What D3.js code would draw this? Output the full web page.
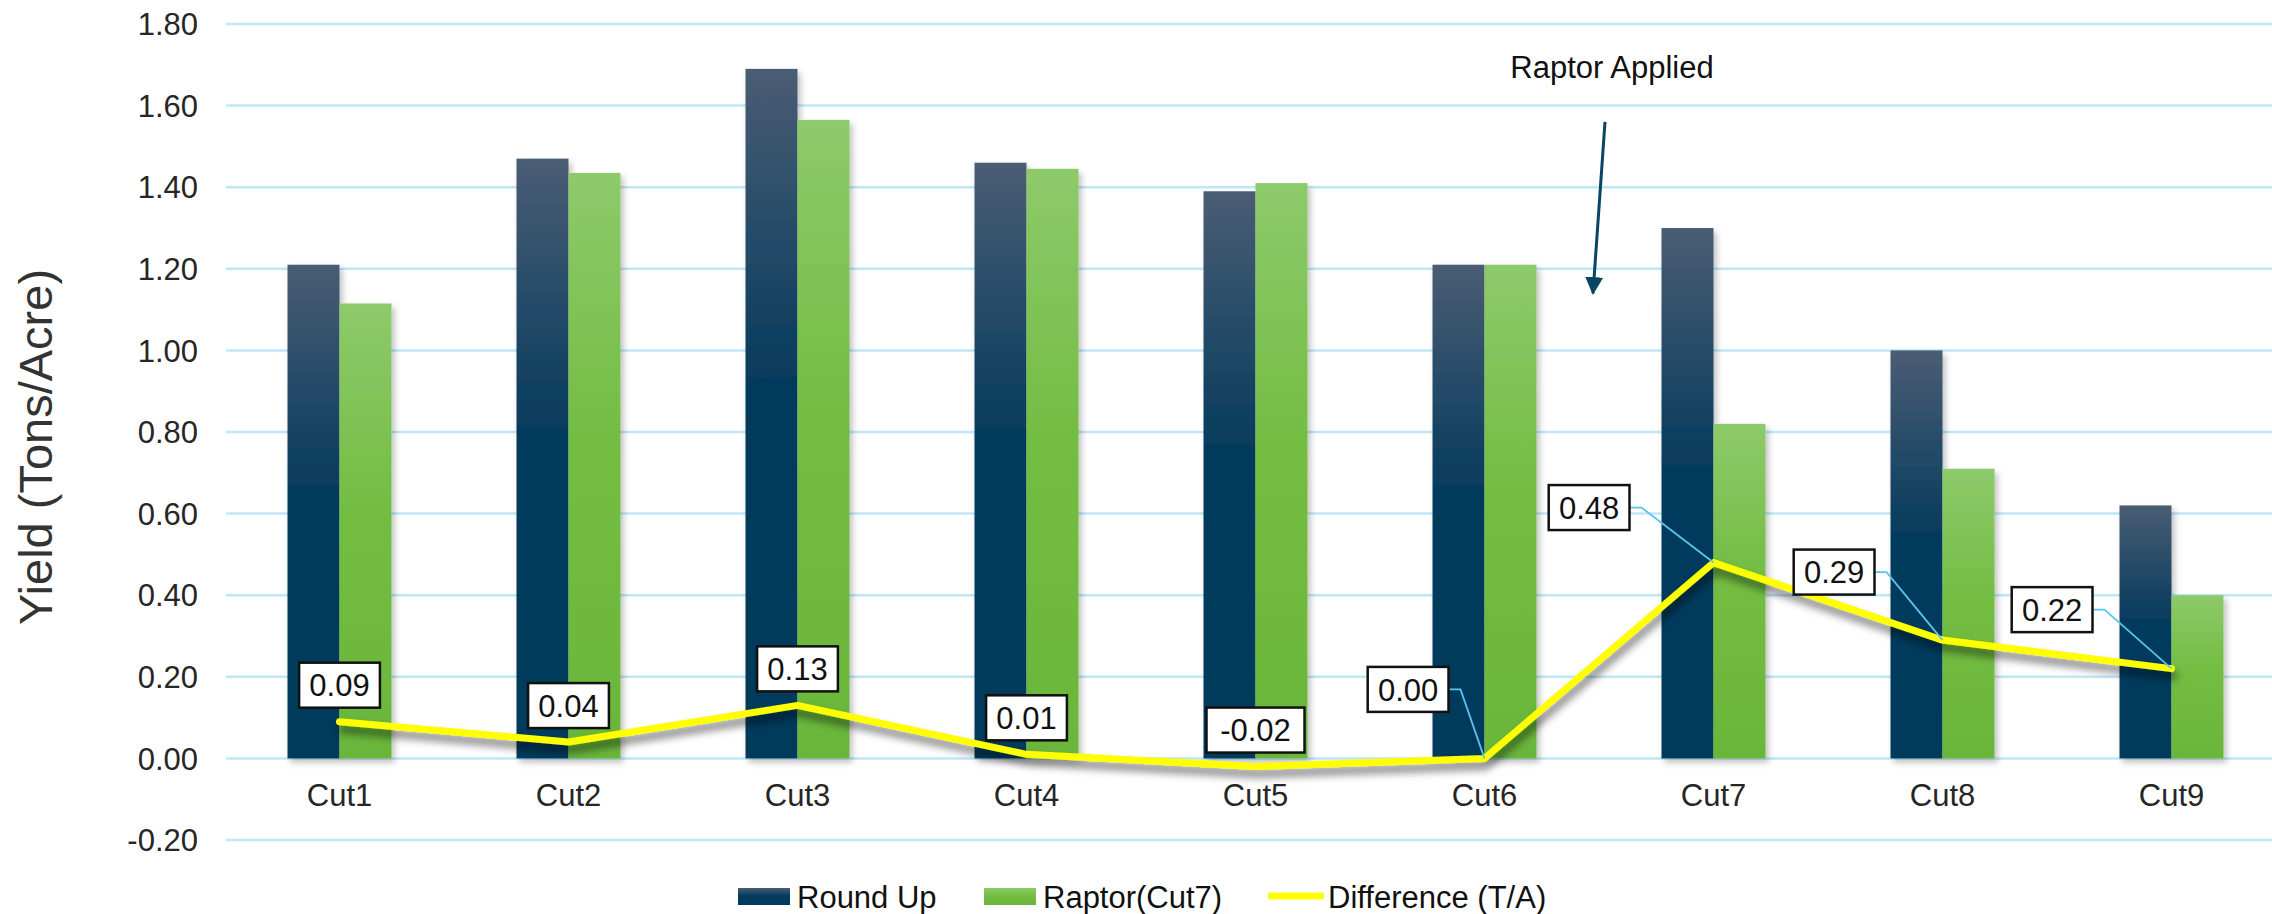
<!DOCTYPE html>
<html lang="en">
<head>
    <meta charset="UTF-8">
    <title>Yield</title>
    <script src="https://cdnjs.cloudflare.com/ajax/libs/d3/7.8.5/d3.min.js"></script>
    <style>
        body { margin: 0; background: #fff; }
        text { font-family: "Liberation Sans", Arial, sans-serif; }
    </style>
</head>
<body>

<svg id="chart" width="2272" height="914"></svg>

<script>

    // DATA
    var cuts = ['Cut1','Cut2','Cut3','Cut4','Cut5','Cut6','Cut7','Cut8','Cut9'];
    var roundUp = [1.21, 1.47, 1.69, 1.46, 1.39, 1.21, 1.30, 1.00, 0.62];
    var raptor = [1.115, 1.435, 1.565, 1.445, 1.41, 1.21, 0.82, 0.71, 0.40];
    var difference = [0.09, 0.04, 0.13, 0.01, -0.02, 0.00, 0.48, 0.29, 0.22];
    var yTicks = [-0.2, 0, 0.2, 0.4, 0.6, 0.8, 1.0, 1.2, 1.4, 1.6, 1.8];
    var seriesNames = ['Round Up', 'Raptor(Cut7)', 'Difference (T/A)'];

    var width = 2272,
        height = 914;

    var svg = d3.select("#chart");

    var x = d3.scaleBand()
        .domain(cuts)
        .range([225, 2286])
        .paddingInner(0.546)
        .paddingOuter(0.273);

    var x1 = d3.scaleBand()
        .domain([0, 1])
        .range([0, x.bandwidth()]);

    var y = d3.scaleLinear()
        .domain([-0.2, 1.8])
        .range([840, 24]);

    function cx(d) { return x(d) + x.bandwidth() / 2; }

    // plain hyphen for negatives, like the original
    function fmt(d) { return d3.format(".2f")(d).replace("\u2212", "-"); }

    // GRADIENTS + SHADOWS
    var defs = svg.append("defs");

    var g1 = defs.append("linearGradient").attr("id", "gradRU").attr("x1", 0).attr("y1", 0).attr("x2", 0).attr("y2", 1);
    g1.append("stop").attr("offset", "0%").attr("stop-color", "#4a5d74");
    g1.append("stop").attr("offset", "45%").attr("stop-color", "#063b5d");
    g1.append("stop").attr("offset", "100%").attr("stop-color", "#023a5c");

    var g2 = defs.append("linearGradient").attr("id", "gradRap").attr("x1", 0).attr("y1", 0).attr("x2", 0).attr("y2", 1);
    g2.append("stop").attr("offset", "0%").attr("stop-color", "#8dca6b");
    g2.append("stop").attr("offset", "45%").attr("stop-color", "#73bd43");
    g2.append("stop").attr("offset", "100%").attr("stop-color", "#6ab63a");

    defs.append("filter").attr("id", "barShadow")
        .attr("x", "-20%").attr("y", "-5%").attr("width", "150%").attr("height", "115%")
        .append("feDropShadow")
        .attr("dx", 3).attr("dy", 4).attr("stdDeviation", 3)
        .attr("flood-color", "#000").attr("flood-opacity", 0.25);

    defs.append("filter").attr("id", "lineShadow")
        .attr("x", "-5%").attr("y", "-30%").attr("width", "110%").attr("height", "160%")
        .append("feDropShadow")
        .attr("dx", 2).attr("dy", 7).attr("stdDeviation", 4)
        .attr("flood-color", "#000").attr("flood-opacity", 0.55);

    defs.append("marker").attr("id", "arrowHead")
        .attr("viewBox", "0 0 10 10").attr("refX", 9).attr("refY", 5)
        .attr("markerWidth", 6).attr("markerHeight", 6).attr("orient", "auto")
        .append("path").attr("d", "M0,0 L10,5 L0,10 Z").attr("fill", "#0b4565");

    // GRIDLINES
    svg.append("g").selectAll("line")
        .data(yTicks)
        .enter().append("line")
        .attr("x1", 226).attr("x2", width)
        .attr("y1", function (d) { return y(d); })
        .attr("y2", function (d) { return y(d); })
        .style("stroke", "#bfe7fa")
        .style("stroke-width", 2.5);

    // Y AXIS LABELS
    svg.append("g").selectAll("text")
        .data(yTicks)
        .enter().append("text")
        .attr("x", 198)
        .attr("y", function (d) { return y(d); })
        .attr("dy", "0.36em")
        .style("text-anchor", "end")
        .style("font-size", "31px")
        .style("fill", "#262626")
        .text(fmt);

    svg.append("text")
        .attr("transform", "translate(52,447) rotate(-90)")
        .style("text-anchor", "middle")
        .style("font-size", "47px")
        .style("fill", "#333")
        .text("Yield (Tons/Acre)");

    // CATEGORY LABELS
    svg.append("g").selectAll("text")
        .data(cuts)
        .enter().append("text")
        .attr("x", cx)
        .attr("y", 806)
        .style("text-anchor", "middle")
        .style("font-size", "31px")
        .style("fill", "#262626")
        .text(function (d) { return d; });

    // BARS
    var bars = svg.append("g").attr("filter", "url(#barShadow)");

    bars.selectAll(".ru")
        .data(roundUp)
        .enter().append("rect")
        .attr("class", "ru")
        .attr("x", function (d, i) { return x(cuts[i]) + x1(0); })
        .attr("width", x1.bandwidth())
        .attr("y", function (d) { return y(d); })
        .attr("height", function (d) { return y(0) - y(d); })
        .style("fill", "url(#gradRU)");

    bars.selectAll(".rap")
        .data(raptor)
        .enter().append("rect")
        .attr("class", "rap")
        .attr("x", function (d, i) { return x(cuts[i]) + x1(1); })
        .attr("width", x1.bandwidth())
        .attr("y", function (d) { return y(d); })
        .attr("height", function (d) { return y(0) - y(d); })
        .style("fill", "url(#gradRap)");

    // DIFFERENCE LINE
    var line = d3.line()
        .x(function (d, i) { return cx(cuts[i]); })
        .y(function (d) { return y(d); });

    svg.append("path")
        .datum(difference)
        .attr("d", line)
        .attr("filter", "url(#lineShadow)")
        .style("fill", "none")
        .style("stroke", "#ffff00")
        .style("stroke-width", 7)
        .style("stroke-linejoin", "round")
        .style("stroke-linecap", "round");

    // DATA LABELS (first five above the point, the rest to the left with a leader)
    var labelPos = [
        { side: "top" }, { side: "top" }, { side: "top" }, { side: "top" }, { side: "top" },
        { side: "left", dx: -36, dy: -69 },
        { side: "left", dx: -84, dy: -55 },
        { side: "left", dx: -68, dy: -68 },
        { side: "left", dx: -79, dy: -59 }
    ];

    var boxH = 45;

    difference.forEach(function (d, i) {
        var px = cx(cuts[i]),
            py = y(d),
            txt = fmt(d),
            bw = txt.length * 17.2 + 12,
            pos = labelPos[i],
            bx, by;

        if (pos.side === "top") {
            bx = px - bw / 2;
            by = py - 14 - boxH;
        } else {
            bx = px + pos.dx - bw;
            by = py + pos.dy - boxH / 2;
            svg.append("polyline")
                .attr("points", [[bx + bw, by + boxH / 2], [bx + bw + 12, by + boxH / 2], [px, py]].join(" "))
                .style("fill", "none")
                .style("stroke", "#5cc3f0")
                .style("stroke-width", 1.8);
        }

        svg.append("rect")
            .attr("x", bx).attr("y", by)
            .attr("width", bw).attr("height", boxH)
            .style("fill", "#fff")
            .style("stroke", "#111")
            .style("stroke-width", 2.5);

        svg.append("text")
            .attr("x", bx + bw / 2)
            .attr("y", by + boxH / 2)
            .attr("dy", "0.36em")
            .style("text-anchor", "middle")
            .style("font-size", "31px")
            .style("fill", "#111")
            .text(txt);
    });

    // ANNOTATION
    var annX = (cx("Cut6") + cx("Cut7")) / 2;

    svg.append("text")
        .attr("x", annX + 13)
        .attr("y", 78)
        .style("text-anchor", "middle")
        .style("font-size", "31px")
        .style("fill", "#111")
        .text("Raptor Applied");

    svg.append("line")
        .attr("x1", annX + 6).attr("y1", y(1.56))
        .attr("x2", annX - 6).attr("y2", y(1.14))
        .attr("marker-end", "url(#arrowHead)")
        .style("stroke", "#0b4565")
        .style("stroke-width", 3);

    // LEGEND
    var legend = svg.append("g");
    var legX = [738, 984, 1268];

    legend.append("rect").attr("x", legX[0]).attr("y", 888).attr("width", 52).attr("height", 17).style("fill", "url(#gradRU)");
    legend.append("rect").attr("x", legX[1]).attr("y", 888).attr("width", 52).attr("height", 17).style("fill", "url(#gradRap)");
    legend.append("line").attr("x1", legX[2] + 3).attr("x2", legX[2] + 53).attr("y1", 896).attr("y2", 896)
        .style("stroke", "#ffff00").style("stroke-width", 7).style("stroke-linecap", "round");

    legend.selectAll("text")
        .data(seriesNames)
        .enter().append("text")
        .attr("x", function (d, i) { return legX[i] + (i === 2 ? 60 : 59); })
        .attr("y", 897)
        .attr("dy", "0.36em")
        .style("font-size", "31px")
        .style("fill", "#111")
        .text(function (d) { return d; });

</script>

</body>
</html>
